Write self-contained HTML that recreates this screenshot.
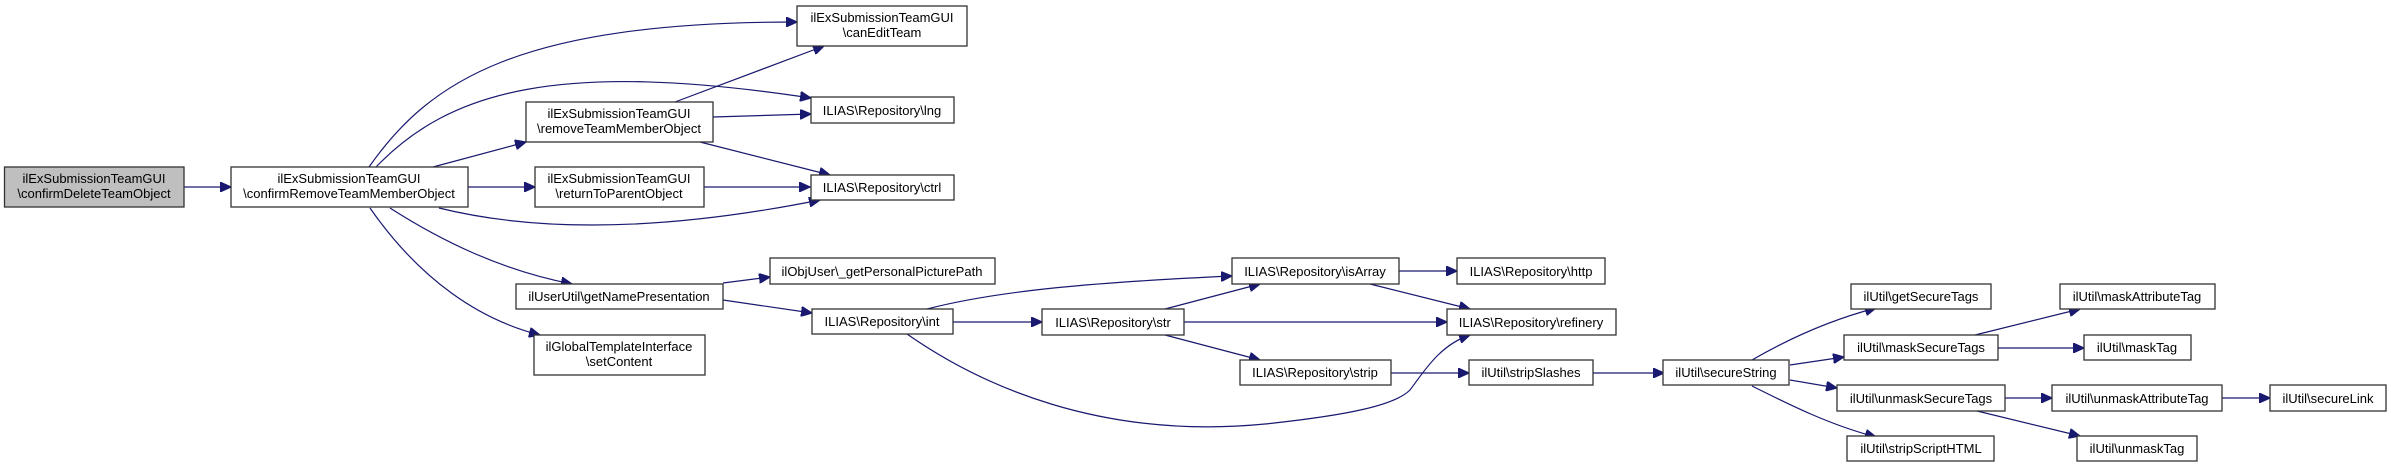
<!DOCTYPE html>
<html><head><meta charset="utf-8"><style>
html,body{margin:0;padding:0;background:#fff;}
svg{display:block;}
text{font-family:"Liberation Sans",sans-serif;font-size:13px;fill:#000;text-anchor:middle;}
rect{fill:#fff;stroke:#333;stroke-width:1.3;}
path{fill:none;stroke:#191970;stroke-width:1.2;}
</style></head><body>
<svg width="2391" height="467" viewBox="0 0 2391 467" xmlns="http://www.w3.org/2000/svg">
<defs><marker id="a" markerUnits="userSpaceOnUse" markerWidth="12" markerHeight="10" refX="11" refY="5" orient="auto"><path d="M0,0 L11,5 L0,10 Z" style="fill:#191970;stroke:#191970"/></marker></defs>
<g marker-end="url(#a)">
<path d="M184,187 L231,187"/>
<path d="M369,167 C430,80 520,22 797,22"/>
<path d="M376,167 C450,90 560,60 811,98"/>
<path d="M433,167 L526,142"/>
<path d="M468,187 L535,187"/>
<path d="M439,208 C520,228 640,236 820,200"/>
<path d="M390,208 C440,240 500,270 572,284"/>
<path d="M370,208 C420,280 480,320 540,335"/>
<path d="M675,102 L824,46"/>
<path d="M713,117 L811,114"/>
<path d="M700,142 L830,175"/>
<path d="M704,187 L810,187"/>
<path d="M723,283 L770,277"/>
<path d="M723,300 L812,313"/>
<path d="M953,322 L1042,322"/>
<path d="M927,309 C1000,290 1100,282 1232,276"/>
<path d="M907,334 C980,385 1100,440 1265,424 C1350,415 1395,405 1410,390 C1425,370 1440,345 1470,335"/>
<path d="M1165,309 L1260,284"/>
<path d="M1184,322 L1447,322"/>
<path d="M1165,335 L1260,360"/>
<path d="M1399,271 L1457,271"/>
<path d="M1370,284 L1470,309"/>
<path d="M1391,373 L1469,373"/>
<path d="M1593,373 L1664,373"/>
<path d="M1752,360 C1790,338 1830,320 1876,308"/>
<path d="M1790,365 L1844,357"/>
<path d="M1790,380 L1837,388"/>
<path d="M1752,386 C1790,405 1830,425 1876,437"/>
<path d="M1975,335 L2080,309"/>
<path d="M1998,348 L2084,348"/>
<path d="M2005,398 L2052,398"/>
<path d="M1977,411 L2080,436"/>
<path d="M2222,398 L2270,398"/>
</g>
<rect x="4.5" y="167" width="179.5" height="40" style="fill:#bfbfbf"/>
<text x="94" y="183">ilExSubmissionTeamGUI</text><text x="94" y="198">\confirmDeleteTeamObject</text>
<rect x="231" y="167" width="237" height="40"/>
<text x="349" y="183">ilExSubmissionTeamGUI</text><text x="349" y="198">\confirmRemoveTeamMemberObject</text>
<rect x="526" y="102" width="187" height="40"/>
<text x="619" y="118">ilExSubmissionTeamGUI</text><text x="619" y="133">\removeTeamMemberObject</text>
<rect x="535" y="167" width="169" height="40"/>
<text x="619" y="183">ilExSubmissionTeamGUI</text><text x="619" y="198">\returnToParentObject</text>
<rect x="797" y="6" width="170" height="40"/>
<text x="882" y="22">ilExSubmissionTeamGUI</text><text x="882" y="37">\canEditTeam</text>
<rect x="811" y="97" width="143" height="26"/><text x="882" y="115">ILIAS\Repository\lng</text>
<rect x="811" y="175" width="143" height="25"/><text x="882" y="192">ILIAS\Repository\ctrl</text>
<rect x="516" y="284" width="207" height="25"/><text x="619" y="301">ilUserUtil\getNamePresentation</text>
<rect x="534" y="335" width="171" height="40"/>
<text x="619" y="351">ilGlobalTemplateInterface</text><text x="619" y="366">\setContent</text>
<rect x="770" y="258" width="225" height="26"/><text x="882" y="276">ilObjUser\_getPersonalPicturePath</text>
<rect x="812" y="309" width="141" height="25"/><text x="882" y="326">ILIAS\Repository\int</text>
<rect x="1042" y="309" width="142" height="26"/><text x="1113" y="327">ILIAS\Repository\str</text>
<rect x="1232" y="258" width="167" height="26"/><text x="1315" y="276">ILIAS\Repository\isArray</text>
<rect x="1457" y="258" width="148" height="26"/><text x="1531" y="276">ILIAS\Repository\http</text>
<rect x="1447" y="309" width="169" height="26"/><text x="1531" y="327">ILIAS\Repository\refinery</text>
<rect x="1240" y="360" width="151" height="25"/><text x="1315" y="377">ILIAS\Repository\strip</text>
<rect x="1469" y="360" width="124" height="25"/><text x="1531" y="377">ilUtil\stripSlashes</text>
<rect x="1663" y="360" width="126" height="25"/><text x="1726" y="377">ilUtil\secureString</text>
<rect x="1851" y="284" width="140" height="25"/><text x="1921" y="301">ilUtil\getSecureTags</text>
<rect x="1844" y="335" width="154" height="25"/><text x="1921" y="352">ilUtil\maskSecureTags</text>
<rect x="1837" y="385" width="168" height="26"/><text x="1921" y="403">ilUtil\unmaskSecureTags</text>
<rect x="1847" y="436" width="147" height="25"/><text x="1921" y="453">ilUtil\stripScriptHTML</text>
<rect x="2060" y="284" width="155" height="25"/><text x="2137" y="301">ilUtil\maskAttributeTag</text>
<rect x="2084" y="335" width="107" height="25"/><text x="2137" y="352">ilUtil\maskTag</text>
<rect x="2052" y="385" width="170" height="26"/><text x="2137" y="403">ilUtil\unmaskAttributeTag</text>
<rect x="2077" y="436" width="120" height="25"/><text x="2137" y="453">ilUtil\unmaskTag</text>
<rect x="2270" y="385" width="116" height="26"/><text x="2328" y="403">ilUtil\secureLink</text>
</svg>
</body></html>
